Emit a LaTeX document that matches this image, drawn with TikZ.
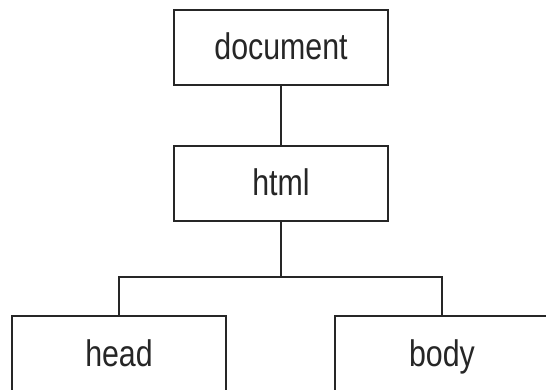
\documentclass[tikz,border=0pt]{standalone}
\usepackage{fontspec}
\setmainfont{Liberation Sans}[FakeStretch=0.82]
\begin{document}
\begin{tikzpicture}[x=1pt,y=-1pt,
  box/.style={draw=black!85, line width=2pt, fill=white, minimum width=214pt, minimum height=75pt,
    inner sep=0pt, text height=25pt, text depth=0pt, text=black!85, font=\fontsize{37}{40}\selectfont},
  conn/.style={draw=black!85, line width=2pt}]
\useasboundingbox (0,0) rectangle (546,390);
\clip (0,0) rectangle (546,390);
\fill[white] (0,0) rectangle (546,390);
\node[box] (doc) at (281,47.5) {document};
\node[box] (html) at (281,183.5) {html};
\node[box] (head) at (119,353.5) {head};
\node[box] (body) at (442,353.5) {body};
\coordinate (j) at (281,277);
\draw[conn] (doc.south) -- (html.north);
\draw[conn] (html.south) -- (j);
\draw[conn] (head.north) |- (j) -| (body.north);
\end{tikzpicture}
\end{document}
